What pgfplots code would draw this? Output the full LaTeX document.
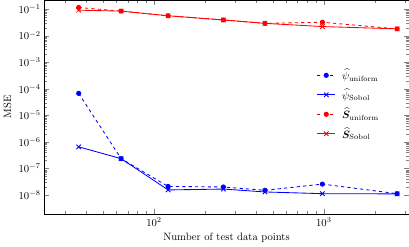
\documentclass[border=0pt]{standalone}
\usepackage{pgfplots}
\usepackage{amsmath,amssymb,bm}
\pgfplotsset{compat=1.18}
\begin{document}
\begin{tikzpicture}
\begin{axis}[
  scale only axis,
  width=343pt, height=201pt,
  xmode=log, ymode=log,
  xmin=22.6, xmax=3162,
  ymin=1.96e-9, ymax=0.216,
  xlabel={Number of test data points},
  ylabel={MSE},
  ytick={1e-8,1e-7,1e-6,1e-5,1e-4,1e-3,1e-2,1e-1},
  legend style={at={(0.945,0.69)}, anchor=north east, draw=none, fill=none, row sep=6pt,
    nodes={inner xsep=6pt, inner ysep=0.5pt}},
  legend cell align=left,
  every axis plot/.append style={thick},
]
\addplot[blue, dashed, mark=*, mark size=2pt, mark options={solid}] coordinates {
(36,6.7e-5) (64,2.33e-7) (121,2.1e-8) (256,2.0e-8) (450,1.5e-8) (980,2.57e-8) (2700,1.12e-8)};
\addlegendentry{$\widehat{\psi}_{\mathrm{uniform}}$}
\addplot[blue, mark=x, mark size=3pt] coordinates {
(36,6.5e-7) (64,2.33e-7) (121,1.55e-8) (256,1.67e-8) (450,1.3e-8) (980,1.12e-8) (2700,1.1e-8)};
\addlegendentry{$\widehat{\psi}_{\mathrm{Sobol}}$}
\addplot[red, dashed, mark=*, mark size=2pt, mark options={solid}] coordinates {
(36,0.115) (64,0.084) (121,0.056) (256,0.039) (450,0.029) (980,0.032) (2700,0.018)};
\addlegendentry{$\widehat{\bm{S}}_{\mathrm{uniform}}$}
\addplot[red, mark=x, mark size=3pt] coordinates {
(36,0.091) (64,0.084) (121,0.056) (256,0.039) (450,0.029) (980,0.022) (2700,0.018)};
\addlegendentry{$\widehat{\bm{S}}_{\mathrm{Sobol}}$}
\end{axis}
\end{tikzpicture}
\end{document}
